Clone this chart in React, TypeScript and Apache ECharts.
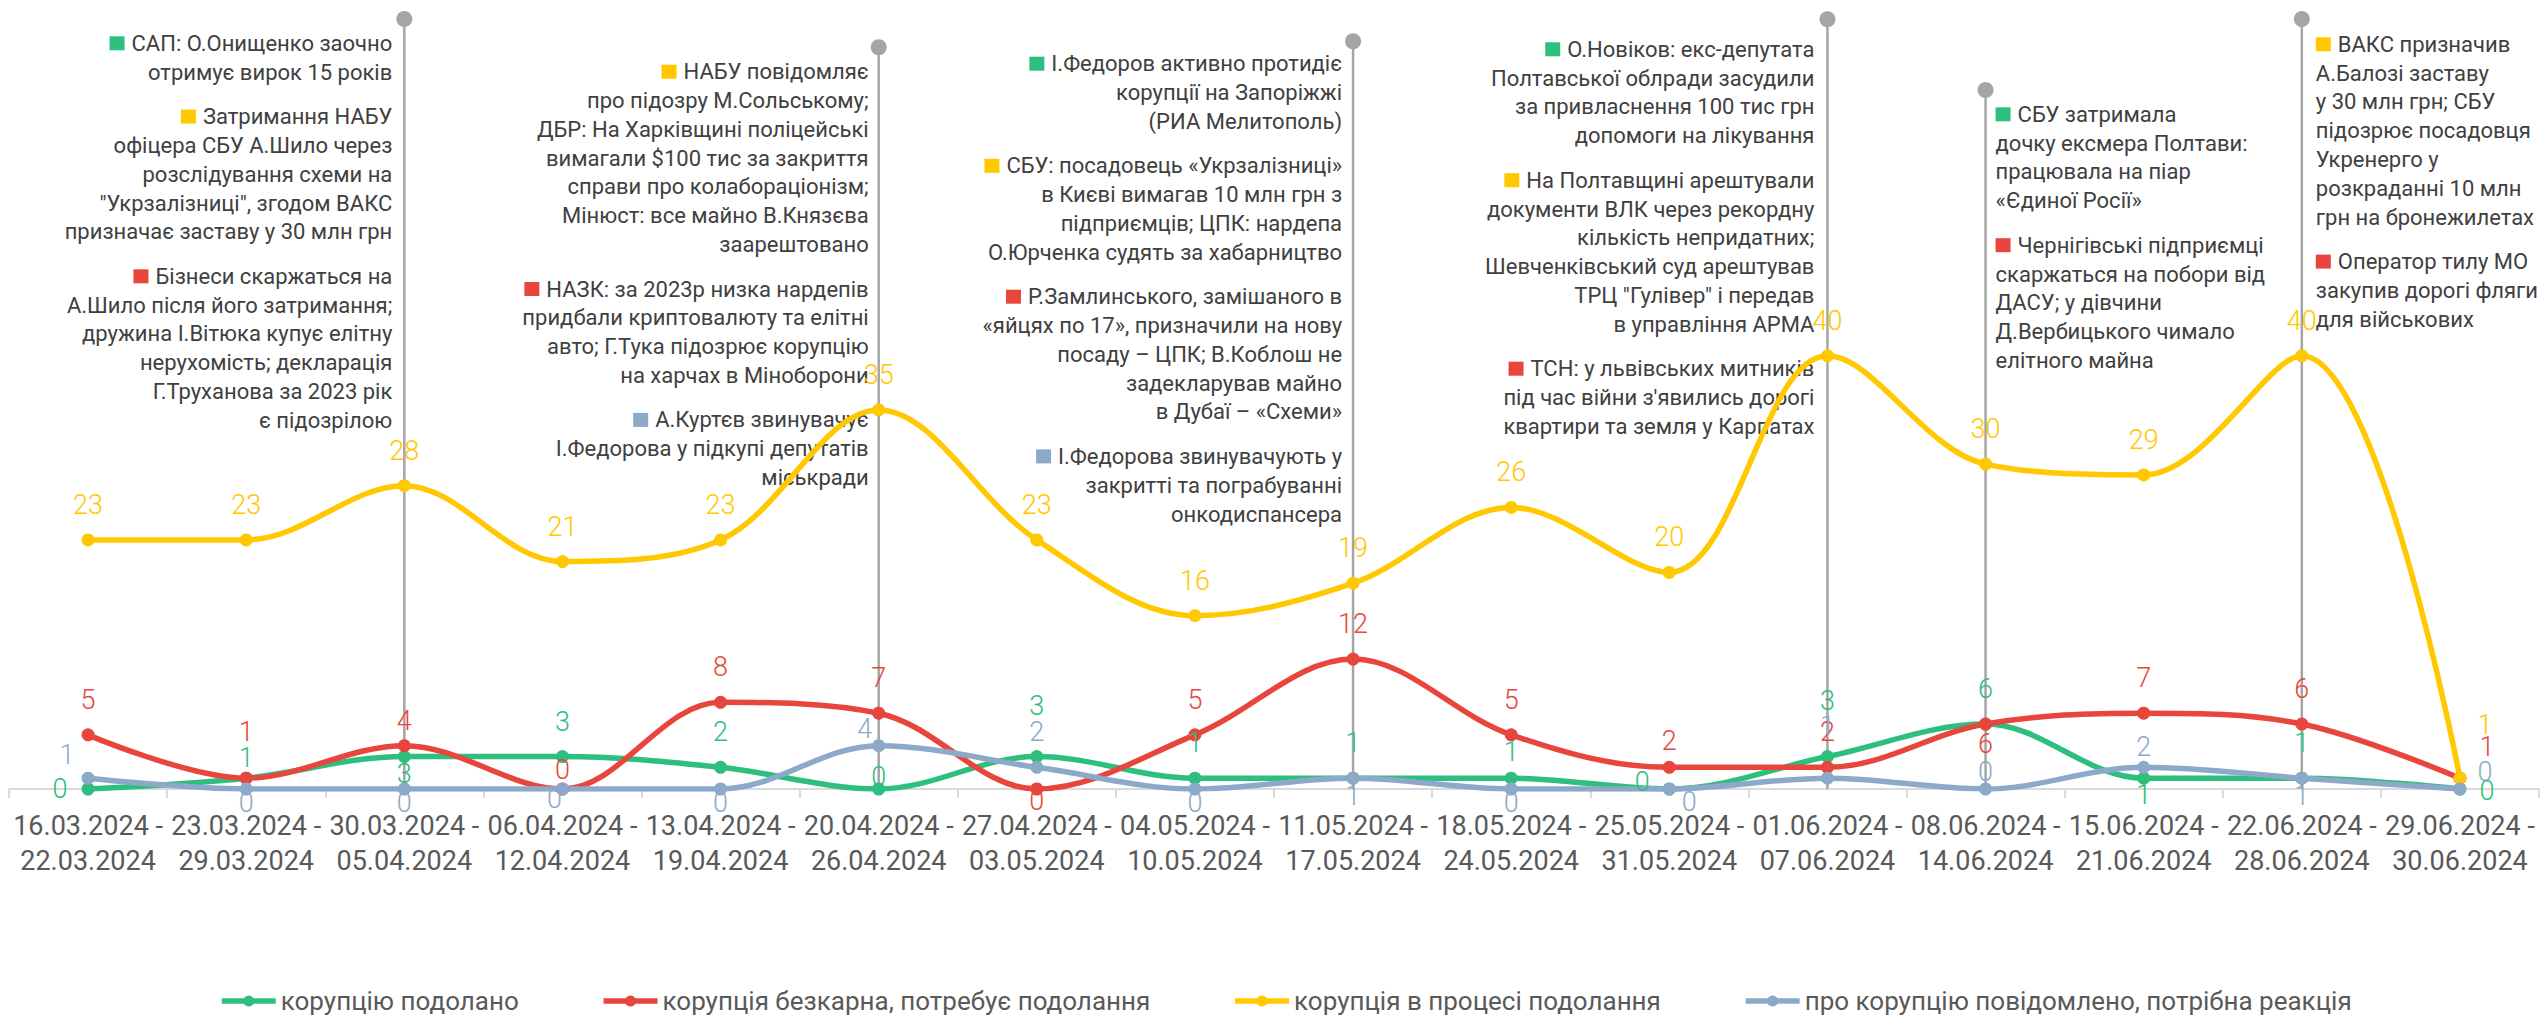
import React, { useEffect, useRef } from 'react';
import * as echarts from 'echarts';

// ---------------- data ----------------
const categories = [
  '16.03.2024 -\n22.03.2024', '23.03.2024 -\n29.03.2024', '30.03.2024 -\n05.04.2024', '06.04.2024 -\n12.04.2024',
  '13.04.2024 -\n19.04.2024', '20.04.2024 -\n26.04.2024', '27.04.2024 -\n03.05.2024', '04.05.2024 -\n10.05.2024',
  '11.05.2024 -\n17.05.2024', '18.05.2024 -\n24.05.2024', '25.05.2024 -\n31.05.2024', '01.06.2024 -\n07.06.2024',
  '08.06.2024 -\n14.06.2024', '15.06.2024 -\n21.06.2024', '22.06.2024 -\n28.06.2024', '29.06.2024 -\n30.06.2024',
];

const seriesNames = [
  'корупцію подолано',
  'корупція безкарна, потребує подолання',
  'корупція в процесі подолання',
  'про корупцію повідомлено, потрібна реакція',
];

const overcome = [0, 1, 3, 3, 2, 0, 3, 1, 1, 1, 0, 3, 6, 1, 1, 0];
const unpunished = [5, 1, 4, 0, 8, 7, 0, 5, 12, 5, 2, 2, 6, 7, 6, 1];
const inProgress = [23, 23, 28, 21, 23, 35, 23, 16, 19, 26, 20, 40, 30, 29, 40, 1];
const reported = [1, 0, 0, 0, 0, 4, 2, 0, 1, 0, 0, 1, 0, 2, 1, 0];

// annotations: category index of each note, and the note texts (s = series index for the colour square)
const annotationCategories = [2, 5, 8, 11, 12, 14];

const note1 = [
  { s: 0, lines: ['САП: О.Онищенко заочно', 'отримує вирок 15 років'] },
  { s: 2, lines: ['Затримання НАБУ', 'офіцера СБУ А.Шило через', 'розслідування схеми на', '"Укрзалізниці", згодом ВАКС', 'призначає заставу у 30 млн грн'] },
  { s: 1, lines: ['Бізнеси скаржаться на', 'А.Шило після його затримання;', 'дружина І.Вітюка купує елітну', 'нерухомість; декларація', 'Г.Труханова за 2023 рік', 'є підозрілою'] },
];
const note2 = [
  { s: 2, lines: ['НАБУ повідомляє', 'про підозру М.Сольському;', 'ДБР: На Харківщині поліцейські', 'вимагали $100 тис за закриття', 'справи про колабораціонізм;', 'Мінюст: все майно В.Князєва', 'заарештовано'] },
  { s: 1, lines: ['НАЗК: за 2023р низка нардепів', 'придбали криптовалюту та елітні', 'авто; Г.Тука підозрює корупцію', 'на харчах в Міноборони'] },
  { s: 3, lines: ['А.Куртєв звинувачує', 'І.Федорова у підкупі депутатів', 'міськради'] },
];
const note3 = [
  { s: 0, lines: ['І.Федоров активно протидіє', 'корупції на Запоріжжі', '(РИА Мелитополь)'] },
  { s: 2, lines: ['СБУ: посадовець «Укрзалізниці»', 'в Києві вимагав 10 млн грн з', 'підприємців; ЦПК: нардепа', 'О.Юрченка судять за хабарництво'] },
  { s: 1, lines: ['Р.Замлинського, замішаного в', '«яйцях по 17», призначили на нову', 'посаду – ЦПК; В.Коблош не', 'задекларував майно', 'в Дубаї – «Схеми»'] },
  { s: 3, lines: ['І.Федорова звинувачують у', 'закритті та пограбуванні', 'онкодиспансера'] },
];
const note4 = [
  { s: 0, lines: ['О.Новіков: екс-депутата', 'Полтавської облради засудили', 'за привласнення 100 тис грн', 'допомоги на лікування'] },
  { s: 2, lines: ['На Полтавщині арештували', 'документи ВЛК через рекордну', 'кількість непридатних;', 'Шевченківський суд арештував', 'ТРЦ "Гулівер" і передав', 'в управління АРМА'] },
  { s: 1, lines: ['ТСН: у львівських митників', "під час війни з'явились дорогі", 'квартири та земля у Карпатах'] },
];
const note5 = [
  { s: 0, lines: ['СБУ затримала', 'дочку ексмера Полтави:', 'працювала на піар', '«Єдиної Росії»'] },
  { s: 1, lines: ['Чернігівські підприємці', 'скаржаться на побори від', 'ДАСУ; у дівчини', 'Д.Вербицького чимало', 'елітного майна'] },
];
const note6 = [
  { s: 2, lines: ['ВАКС призначив', 'А.Балозі заставу', 'у 30 млн грн; СБУ', 'підозрює посадовця', 'Укренерго у', 'розкраданні 10 млн', 'грн на бронежилетах'] },
  { s: 1, lines: ['Оператор тилу МО', 'закупив дорогі фляги', 'для військових'] },
];
const notes = [note1, note2, note3, note4, note5, note6];

// ---------------- styles / layout ----------------
const COLORS = ['#2EBE7D', '#E8453C', '#FFC800', '#8DA9CA'];
const NOTE_LAYOUT = [
  { circleY: 19, firstY: 43.3, side: 'left', gap: 12 },
  { circleY: 47.3, firstY: 71.7, side: 'left', gap: 10 },
  { circleY: 41.3, firstY: 63.7, side: 'left', gap: 11 },
  { circleY: 19.3, firstY: 49.3, side: 'left', gap: 13 },
  { circleY: 90, firstY: 114.3, side: 'right', gap: 10 },
  { circleY: 19, firstY: 44.3, side: 'right', gap: 14 },
];
const LINE_STEP = 28.8;
const PARA_STEP = 44.5;

const DEFAULT_SHIFT = [0, -35];
const LABEL_SHIFT: Record<number, number[]>[] = [
  { 0: [-28, 0], 1: [0, -20], 2: [0, 17], 5: [0, -12], 6: [0, -51], 9: [0, -26], 10: [-27, -7], 11: [0, -56], 13: [0, 17], 15: [27, 2] },
  { 1: [0, -46], 2: [0, -25], 3: [0, -19], 6: [0, 12], 10: [0, -26], 12: [0, 20], 15: [27, -31] },
  { 15: [25, -53] },
  { 0: [-21, -23], 1: [0, 14], 2: [0, 14], 3: [-8, 10], 4: [0, 14], 5: [-14, -17], 7: [0, 14], 8: [0, 18], 9: [0, 14], 10: [20, 13], 11: [0, -52], 12: [0, -17], 13: [0, -20], 14: [0, 18], 15: [25, -17] },
];

const FONT = 'Roboto';

function renderNote(params: any, api: any) {
  const k = params.dataIndex;
  const lay = NOTE_LAYOUT[k];
  const p0 = api.coord([api.value(0), 0]);
  const x = p0[0];
  const children: any[] = [
    { type: 'line', shape: { x1: x, y1: p0[1], x2: x, y2: lay.circleY }, style: { stroke: '#A5A5A5', lineWidth: 2.5 } },
    { type: 'circle', shape: { cx: x, cy: lay.circleY, r: 8 }, style: { fill: '#A5A5A5' } },
  ];
  const toLeft = lay.side === 'left';
  const tx = toLeft ? x - lay.gap : x + lay.gap;
  let y = lay.firstY;
  notes[k].forEach((para, pi) => {
    if (pi > 0) y += PARA_STEP - LINE_STEP;
    para.lines.forEach((line, li) => {
      children.push({
        type: 'text',
        style: {
          x: tx,
          y,
          text: li === 0 ? '{sq|}{sp|}' + line : line,
          fill: '#404040',
          fontSize: 22,
          fontFamily: FONT,
          align: toLeft ? 'right' : 'left',
          verticalAlign: 'middle',
          rich: {
            sq: { width: 15, height: 14, backgroundColor: COLORS[para.s] },
            sp: { width: 7 },
          },
        },
      });
      y += LINE_STEP;
    });
  });
  return { type: 'group', children };
}

const allValues = [overcome, unpunished, inProgress, reported];

export default function App() {
  const ref = useRef<HTMLDivElement>(null);
  useEffect(() => {
    if (!ref.current) return;
    const chart = echarts.init(ref.current, undefined, { renderer: 'svg' });
    const lineSeries = allValues.map((vals, si) => ({
      type: 'line',
      name: seriesNames[si],
      data: vals.map((v, i) => ({ value: v, label: { offset: LABEL_SHIFT[si][i] ?? DEFAULT_SHIFT } })),
      smooth: 0.35,
      symbol: 'circle',
      symbolSize: 13,
      z: 3,
      lineStyle: { width: 5.5, color: COLORS[si] },
      itemStyle: { color: COLORS[si] },
      emphasis: { disabled: true },
      label: {
        show: true,
        position: 'inside',
        color: COLORS[si],
        fontSize: 27,
        fontWeight: 300,
        fontFamily: FONT,
        textBorderWidth: 0,
        textBorderColor: 'transparent',
      },
    }));
    chart.setOption({
      animation: false,
      backgroundColor: '#ffffff',
      grid: { left: 9, right: 3, top: 20, bottom: 227, containLabel: false },
      legend: {
        data: seriesNames,
        left: 219,
        top: 988,
        padding: 0,
        itemWidth: 54,
        itemHeight: 14,
        itemGap: 82,
        lineStyle: { width: 5.5 },
        textStyle: { fontSize: 26, color: '#595959', fontFamily: FONT },
      },
      xAxis: {
        type: 'category',
        data: categories,
        boundaryGap: true,
        axisLine: { lineStyle: { color: '#D9D9D9', width: 2 } },
        axisTick: { show: true, length: 9, lineStyle: { color: '#D9D9D9', width: 2 } },
        axisLabel: { interval: 0, fontSize: 27, color: '#595959', fontFamily: FONT, lineHeight: 35, margin: 19 },
      },
      yAxis: { type: 'value', min: 0, max: 71, show: false, splitLine: { show: false } },
      series: [
        {
          type: 'custom',
          name: 'notes',
          data: annotationCategories.map((c) => [c, 0]),
          encode: { x: 0, y: 1 },
          renderItem: renderNote,
          silent: true,
          z: 1,
        },
        ...lineSeries,
      ],
    });
    return () => chart.dispose();
  }, []);
  return <div ref={ref} style={{ position: 'absolute', left: 0, top: 0, width: 2542, height: 1016, background: '#fff' }} />;
}
